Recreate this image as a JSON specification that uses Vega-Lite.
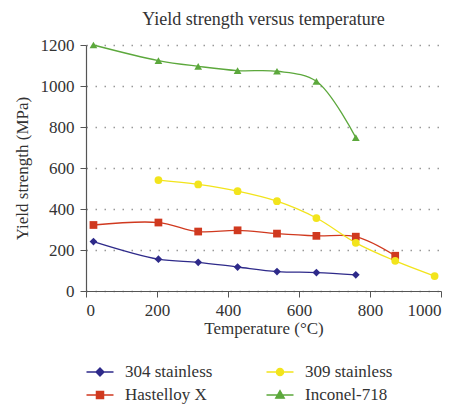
{
  "$schema": "https://vega.github.io/schema/vega-lite/v6.json",
  "width": 355,
  "height": 246,
  "autosize": {"type": "none"},
  "padding": {"left": 86, "top": 45, "right": 33, "bottom": 129},
  "background": "white",
  "title": {"text": "Yield strength versus temperature", "font": "Liberation Serif", "fontSize": 18, "fontWeight": "normal", "color": "#333333", "anchor": "middle", "offset": 7},
  "config": {
    "view": {"stroke": null},
    "font": "Liberation Serif",
    "axis": {"labelFont": "Liberation Serif", "titleFont": "Liberation Serif", "labelFontSize": 17, "titleFontSize": 17, "titleFontWeight": "normal", "labelColor": "#333333", "titleColor": "#333333", "domainColor": "#555555", "tickColor": "#555555", "tickSize": 6, "domainWidth": 1.2}
  },
  "data": {"values": [
    {"alloy": "304 stainless", "t": 21, "y": 241},
    {"alloy": "304 stainless", "t": 204, "y": 155},
    {"alloy": "304 stainless", "t": 316, "y": 140},
    {"alloy": "304 stainless", "t": 427, "y": 117},
    {"alloy": "304 stainless", "t": 538, "y": 95},
    {"alloy": "304 stainless", "t": 649, "y": 90},
    {"alloy": "304 stainless", "t": 760, "y": 79},
    {"alloy": "Hastelloy X", "t": 21, "y": 322},
    {"alloy": "Hastelloy X", "t": 204, "y": 334},
    {"alloy": "Hastelloy X", "t": 316, "y": 290},
    {"alloy": "Hastelloy X", "t": 427, "y": 296},
    {"alloy": "Hastelloy X", "t": 538, "y": 280},
    {"alloy": "Hastelloy X", "t": 649, "y": 269},
    {"alloy": "Hastelloy X", "t": 760, "y": 265},
    {"alloy": "Hastelloy X", "t": 871, "y": 172},
    {"alloy": "309 stainless", "t": 204, "y": 541},
    {"alloy": "309 stainless", "t": 316, "y": 520},
    {"alloy": "309 stainless", "t": 427, "y": 487},
    {"alloy": "309 stainless", "t": 538, "y": 438},
    {"alloy": "309 stainless", "t": 649, "y": 356},
    {"alloy": "309 stainless", "t": 760, "y": 235},
    {"alloy": "309 stainless", "t": 871, "y": 147},
    {"alloy": "309 stainless", "t": 982, "y": 73},
    {"alloy": "Inconel-718", "t": 21, "y": 1200},
    {"alloy": "Inconel-718", "t": 204, "y": 1124},
    {"alloy": "Inconel-718", "t": 316, "y": 1096},
    {"alloy": "Inconel-718", "t": 427, "y": 1075},
    {"alloy": "Inconel-718", "t": 538, "y": 1072},
    {"alloy": "Inconel-718", "t": 649, "y": 1023},
    {"alloy": "Inconel-718", "t": 760, "y": 748}
  ]},
  "encoding": {
    "x": {"field": "t", "type": "quantitative", "scale": {"domain": [0, 1000], "nice": false}, "axis": {"title": "Temperature (°C)", "format": "d", "values": [0, 200, 400, 600, 800, 1000], "grid": false, "labelPadding": 5, "titlePadding": 2}},
    "y": {"field": "y", "type": "quantitative", "scale": {"domain": [0, 1200], "nice": false}, "axis": {"title": "Yield strength (MPa)", "format": "d", "values": [0, 200, 400, 600, 800, 1000, 1200], "grid": true, "gridColor": "#999999", "gridDash": [1.5, 7.5], "gridWidth": 1.3, "labelPadding": 6, "titlePadding": 9}}
  },
  "layer": [
    {
      "mark": {"type": "line", "interpolate": "catmull-rom", "strokeWidth": 1.3},
      "encoding": {
        "stroke": {"field": "alloy", "type": "nominal",
          "scale": {"domain": ["304 stainless", "309 stainless", "Hastelloy X", "Inconel-718"], "range": ["#2e2a8a", "#f2e41c", "#d0391f", "#5ca83c"]},
          "legend": {"orient": "none", "direction": "horizontal", "legendX": 4, "legendY": 317, "columns": 2, "columnPadding": 50, "rowPadding": 5, "padding": 0, "title": null, "symbolSize": 324, "symbolStrokeWidth": 1.3, "labelFont": "Liberation Serif", "labelFontSize": 17, "labelColor": "#333333", "labelOffset": 15,
            "encode": {"symbols": {"update": {
              "shape": {"signal": "datum.value === '304 stainless' ? 'M-1.5,0H1.5M0,-0.45L0.45,0L0,0.45L-0.45,0Z' : datum.value === 'Hastelloy X' ? 'M-1.5,0H1.5M-0.4,-0.4H0.4V0.4H-0.4Z' : datum.value === '309 stainless' ? 'M-1.5,0H1.5M-0.4,0A0.4,0.4 0 1,0 0.4,0A0.4,0.4 0 1,0 -0.4,0Z' : 'M-1.5,0H1.5M0,-0.5L0.48,0.35L-0.48,0.35Z'"},
              "fill": {"scale": "stroke", "field": "value"},
              "stroke": {"scale": "stroke", "field": "value"},
              "opacity": {"value": 1}
            }}}
          }
        }
      }
    },
    {
      "mark": {"type": "point", "filled": true, "opacity": 1, "size": 60},
      "encoding": {
        "fill": {"field": "alloy", "type": "nominal",
          "scale": {"range": ["#2e2a8a", "#f2e41c", "#d0391f", "#5ca83c"]},
          "legend": null
        },
        "shape": {"field": "alloy", "type": "nominal",
          "scale": {"range": ["diamond", "circle", "square", "triangle-up"]},
          "legend": null
        }
      }
    }
  ]
}
